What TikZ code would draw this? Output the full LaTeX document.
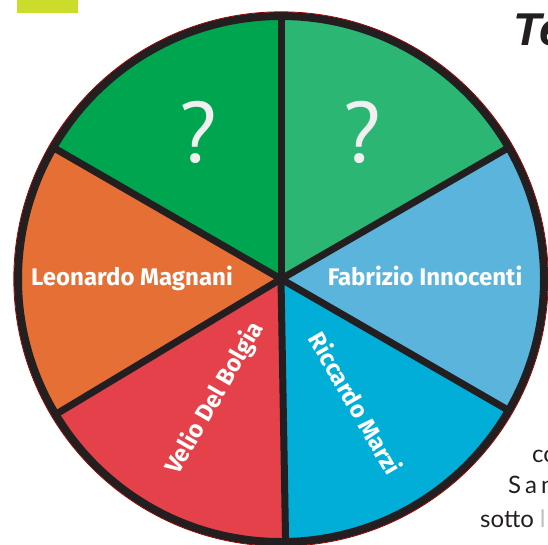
\documentclass[tikz,border=0pt]{standalone}
\usepackage{fontspec}
\setmainfont{Fira Sans}
\newfontfamily\domandafont{PT Sans}
\newfontfamily\titolofont{Liberation Sans}
\newfontfamily\testofont{Lato}
\usepackage{xcolor}

\definecolor{verdescuro}{HTML}{00A54F}
\definecolor{verdechiaro}{HTML}{2CB673}
\definecolor{azzurro}{HTML}{5BB4DC}
\definecolor{ciano}{HTML}{00AED8}
\definecolor{rosso}{HTML}{E5414A}
\definecolor{arancio}{HTML}{E56F35}
\definecolor{bordo}{HTML}{231F20}
\definecolor{lime}{HTML}{CCDC2B}

\begin{document}
\begin{tikzpicture}[x=1pt, y=1pt,
	nome/.style={text=white, font=\bfseries\fontsize{24}{24}\selectfont, inner sep=0pt},
	domanda/.style={text=black!6, font=\domandafont\fontsize{86}{86}\selectfont, inner sep=0pt},
	raggio/.style={draw=bordo, line width=7pt, line cap=round},
	testo/.style={text=bordo, font=\testofont\fontsize{24}{24}\selectfont, inner sep=0pt, anchor=base west}]
	\useasboundingbox (0,0) rectangle (548,-544);
	\clip (0,0) rectangle (548,-544);

	%Centro e raggio
	\coordinate (c) at (281,-279);
	\def\R{263}

	%Settori
	\fill[verdechiaro] (c) -- ++(30:\R) arc[start angle=30, end angle=90, radius=\R] -- cycle;
	\fill[verdescuro] (c) -- ++(90:\R) arc[start angle=90, end angle=150, radius=\R] -- cycle;
	\fill[arancio] (c) -- ++(150:\R) arc[start angle=150, end angle=211, radius=\R] -- cycle;
	\fill[rosso] (c) -- ++(211:\R) arc[start angle=211, end angle=271, radius=\R] -- cycle;
	\fill[ciano] (c) -- ++(271:\R) arc[start angle=271, end angle=330, radius=\R] -- cycle;
	\fill[azzurro] (c) -- ++(-30:\R) arc[start angle=-30, end angle=30, radius=\R] -- cycle;

	%Punti sul bordo
	\path (c) ++(90:\R) coordinate (p1);
	\path (c) ++(30:\R) coordinate (p2);
	\path (c) ++(-30:\R) coordinate (p3);
	\path (c) ++(-89:\R) coordinate (p4);
	\path (c) ++(-149:\R) coordinate (p5);
	\path (c) ++(150:\R) coordinate (p6);

	%Raggi e cerchio
	\draw[raggio] (c) -- (p1);
	\draw[raggio] (c) -- (p2);
	\draw[raggio] (c) -- (p3);
	\draw[raggio] (c) -- (p4);
	\draw[raggio] (c) -- (p5);
	\draw[raggio] (c) -- (p6);
	\draw[draw=bordo, line width=8pt] (c) circle[radius=\R];
	\draw[draw=red!60!black, line width=0.8pt] (c) circle[radius=267.2];

	%Nomi
	\node[nome, anchor=base] (leonardo) at (132,-285) {Leonardo Magnani};
	\node[nome, anchor=base] (fabrizio) at (425,-285) {Fabrizio Innocenti};
	\node[nome, rotate=60] (velio) at (215,-398) {Velio Del Bolgia};
	\node[nome, rotate=-60] (riccardo) at (356,-403) {Riccardo Marzi};
	\node[domanda] (q1) at (198,-132) {?};
	\node[domanda] (q2) at (362,-132) {?};

	%Intorno
	\fill[lime] (17,0) rectangle (78,-13);
	\node[anchor=base west, inner sep=0pt, text=bordo, font=\titolofont\bfseries\itshape\fontsize{46}{46}\selectfont] (titolo) at (513,-45) {Te};
	\node[testo] (riga1) at (532,-462) {co};
	\node[testo] (riga2) at (508,-493) {S\hspace{4pt}a\hspace{4pt}n};
	\node[testo] (riga3) at (480,-527) {sotto\hspace{6pt}{\color{black!25}l}};
\end{tikzpicture}
\end{document}
